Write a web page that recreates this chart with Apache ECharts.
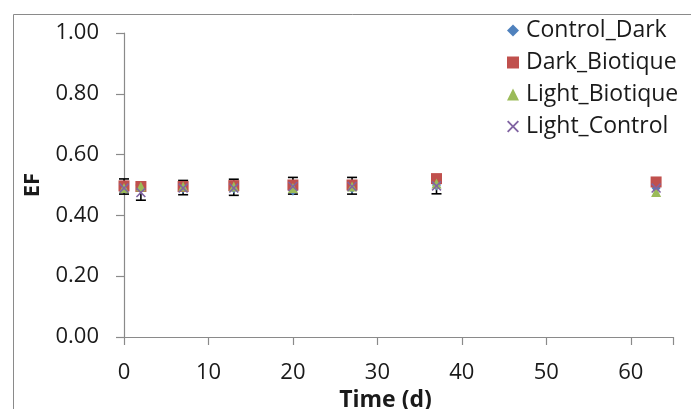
<!DOCTYPE html>
<html><head><meta charset="utf-8">
<script src="https://cdn.jsdelivr.net/npm/echarts@6/dist/echarts.min.js"></script>
<style>html,body{margin:0;padding:0;background:#fff;}#c{width:691px;height:409px;}</style>
</head><body><div id="c"></div>
<script>
const times = [0, 2, 7, 13, 20, 27, 37, 63];
const controlDark = [0.49, 0.49, 0.49, 0.49, 0.483, 0.49, 0.50, 0.49];
const darkBiotique = [0.497, 0.495, 0.495, 0.498, 0.50, 0.50, 0.521, 0.51];
const lightBiotique = [0.49, 0.495, 0.495, 0.495, 0.49, 0.495, 0.505, 0.477];
const lightControl = [0.49, 0.475, 0.49, 0.49, 0.495, 0.495, 0.497, 0.49];
const errHigh = [0.52, 0.50, 0.515, 0.519, 0.525, 0.525, 0.515, 0.50];
const errLow = [0.47, 0.45, 0.468, 0.466, 0.47, 0.47, 0.471, 0.48];
const showErr = [true, true, true, true, true, true, true, false];
const yTicks = [0, 0.2, 0.4, 0.6, 0.8, 1.0];
const xTicks = [0, 10, 20, 30, 40, 50, 60];

const FONT = '"Open Sans", Lato, sans-serif';
const pair = arr => times.map((t, i) => [t, arr[i]]);
const errData = times.map((t, i) => [t, errLow[i], errHigh[i]]).filter((d, i) => showErr[i]);
const xPath = 'path://M0,1.1L1.1,0L5,3.9L8.9,0L10,1.1L6.1,5L10,8.9L8.9,10L5,6.1L1.1,10L0,8.9L3.9,5Z';

const chart = echarts.init(document.getElementById('c'), null, {renderer: 'canvas'});
chart.setOption({
  animation: false,
  backgroundColor: '#fff',
  graphic: [{
    type: 'rect', left: 11, top: 12, z: -10,
    shape: {width: 800, height: 600},
    style: {fill: 'none', stroke: '#8a8a8a', lineWidth: 1}
  }],
  grid: {left: 124, top: 33, right: 18, bottom: 72, containLabel: false, outerBoundsMode: 'none'},
  legend: {
    orient: 'vertical', left: 507, top: 19, padding: 0,
    itemWidth: 12, itemHeight: 12, itemGap: 9,
    textStyle: {fontFamily: FONT, fontSize: 23, color: '#1a1a1a', padding: [0, 0, 0, 2]},
    data: ['Control_Dark', 'Dark_Biotique', 'Light_Biotique', 'Light_Control']
  },
  xAxis: {
    type: 'value', min: 0, max: 65, interval: 10,
    name: 'Time (d)', nameLocation: 'middle', nameGap: 41,
    nameTextStyle: {fontFamily: FONT, fontSize: 23, fontWeight: 'bold', color: '#1a1a1a', padding: [0, 26, 0, 0]},
    axisLine: {onZero: false, lineStyle: {color: '#8a8a8a', width: 1.2}},
    axisTick: {show: true, inside: false, length: 8, lineStyle: {color: '#8a8a8a', width: 1.2}},
    axisLabel: {fontFamily: FONT, fontSize: 22, color: '#1a1a1a', margin: 25,
      formatter: v => xTicks.includes(v) ? String(v) : ''},
    splitLine: {show: false}
  },
  yAxis: {
    type: 'value', min: 0, max: 1, interval: 0.2,
    name: 'EF', nameLocation: 'middle', nameGap: 80, nameRotate: 90,
    nameTextStyle: {fontFamily: FONT, fontSize: 22, fontWeight: 'bold', color: '#1a1a1a'},
    axisLine: {show: true, lineStyle: {color: '#8a8a8a', width: 1.2}},
    axisTick: {show: true, inside: false, length: 8, lineStyle: {color: '#8a8a8a', width: 1.2}},
    axisLabel: {fontFamily: FONT, fontSize: 22, color: '#1a1a1a', margin: 25,
      formatter: v => yTicks.some(t => Math.abs(t - v) < 1e-9) ? v.toFixed(2) : ''},
    splitLine: {show: false}
  },
  series: [
    {
      type: 'custom', name: 'err', z: 1, silent: true,
      data: errData,
      renderItem: function (params, api) {
        const x = api.value(0);
        const lo = api.coord([x, api.value(1)]);
        const hi = api.coord([x, api.value(2)]);
        const w = 5;
        const st = {stroke: '#000', lineWidth: 1.6};
        return {type: 'group', children: [
          {type: 'line', shape: {x1: lo[0], y1: lo[1], x2: hi[0], y2: hi[1]}, style: st},
          {type: 'line', shape: {x1: lo[0] - w, y1: lo[1], x2: lo[0] + w, y2: lo[1]}, style: st},
          {type: 'line', shape: {x1: hi[0] - w, y1: hi[1], x2: hi[0] + w, y2: hi[1]}, style: st}
        ]};
      }
    },
    {type: 'scatter', name: 'Control_Dark', z: 2, symbol: 'diamond', symbolSize: [9, 11],
      itemStyle: {color: '#4F81BD', opacity: 1}, data: pair(controlDark)},
    {type: 'scatter', name: 'Dark_Biotique', z: 3, symbol: 'rect', symbolSize: 11,
      itemStyle: {color: '#C0504D', opacity: 1}, data: pair(darkBiotique)},
    {type: 'scatter', name: 'Light_Biotique', z: 4, symbol: 'triangle', symbolSize: 10,
      itemStyle: {color: '#9BBB59', opacity: 1}, data: pair(lightBiotique)},
    {type: 'scatter', name: 'Light_Control', z: 5, symbol: xPath, symbolSize: 10,
      itemStyle: {color: '#8064A2', opacity: 1}, data: pair(lightControl)}
  ]
});
</script></body></html>
